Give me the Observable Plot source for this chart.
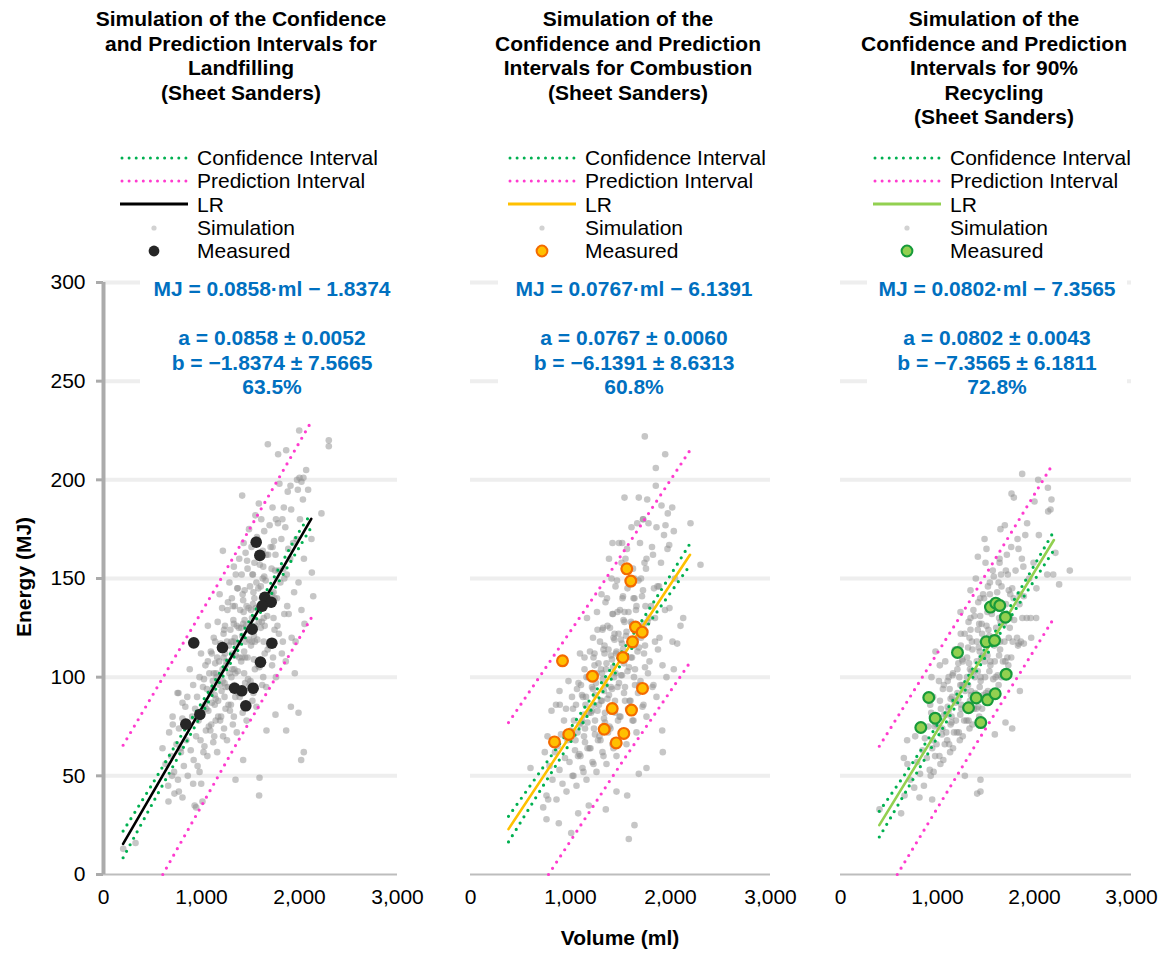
<!DOCTYPE html>
<html><head><meta charset="utf-8">
<script src="https://cdn.jsdelivr.net/npm/d3@7"></script>
<script src="https://cdn.jsdelivr.net/npm/@observablehq/plot@0.6"></script>
<style>
body{margin:0;background:#fff;font-family:"Liberation Sans",Arial,sans-serif;}
#root{position:relative;width:1166px;height:953px;overflow:hidden;background:#fff;}
#root > div, #root > svg, #root > figure{position:absolute;}
.title{font-weight:bold;font-size:21px;line-height:24.6px;text-align:center;color:#000;}
.legend{font-size:21px;color:#000;}
.legend .row{display:flex;align-items:center;height:23.3px;line-height:23.3px;white-space:nowrap;}
.legend .row svg{display:block;margin-right:9px;}
.eq{font-weight:bold;font-size:21px;line-height:24.5px;color:#0070c0;text-align:center;background:#fff;white-space:nowrap;}
.axt{font-weight:bold;font-size:21px;line-height:24px;color:#000;text-align:center;white-space:nowrap;}
</style></head><body><div id="root"></div>
<script>
// ---------------- data ----------------
const xTicks = [0, 1000, 2000, 3000];
const yTicks = [0, 50, 100, 150, 200, 250, 300];
const gridTicks = [50, 100, 150, 200, 250, 300];

const titles = [
  ["Simulation of the Confidence", "and Prediction Intervals for", "Landfilling", "(Sheet Sanders)"],
  ["Simulation of the", "Confidence and Prediction", "Intervals for Combustion", "(Sheet Sanders)"],
  ["Simulation of the", "Confidence and Prediction", "Intervals for 90%", "Recycling", "(Sheet Sanders)"]
];
const legendLabels = ["Confidence Interval", "Prediction Interval", "LR", "Simulation", "Measured"];
const equations = [
  ["MJ = 0.0858·ml − 1.8374", "", "a = 0.0858 ± 0.0052", "b = −1.8374 ± 7.5665", "63.5%"],
  ["MJ = 0.0767·ml − 6.1391", "", "a = 0.0767 ± 0.0060", "b = −6.1391 ± 8.6313", "60.8%"],
  ["MJ = 0.0802·ml − 7.3565", "", "a = 0.0802 ± 0.0043", "b = −7.3565 ± 6.1811", "72.8%"]
];
const xTitle = "Volume (ml)";
const yTitle = "Energy (MJ)";

// regression lines (ml, MJ)
const lr1X = [200, 2120], lr1Y = [15.5, 180.2];
const lr2X = [380, 2195], lr2Y = [23, 162];
const lr3X = [400, 2200], lr3Y = [25, 169.5];

// confidence intervals
const ci1X = [200, 500, 800, 1100, 1400, 1700, 2000, 2120];
const ci1Up = [22, 46, 71, 95, 121, 147, 174, 183];
const ci1Lo = [8.5, 36, 63, 90, 116, 141, 166, 176];
const ci2X = [380, 700, 1000, 1300, 1600, 1900, 2195];
const ci2Up = [29.5, 52.4, 74.2, 96.5, 119.6, 143.6, 167.7];
const ci2Lo = [16.5, 42.8, 67, 90.7, 113.6, 135.6, 156.7];
const ci3X = [400, 700, 1000, 1300, 1600, 1900, 2200];
const ci3Up = [32, 53.4, 76, 99.2, 123.4, 148.4, 174];
const ci3Lo = [19, 44.2, 69.6, 94.6, 118.6, 141.6, 164.4];

// prediction intervals
const pi1UpX = [200, 1160, 2120], pi1Up = [65.5, 146.5, 229.5];
const pi1LoX = [605, 1360, 2120], pi1Lo = [0, 66.5, 130];
const pi2UpX = [380, 1290, 2195], pi2Up = [77, 145, 215];
const pi2LoX = [780, 1490, 2195], pi2Lo = [0, 55, 107.5];
const pi3UpX = [400, 1300, 2195], pi3Up = [65, 136, 208.5];
const pi3LoX = [585, 1390, 2195], pi3Lo = [0, 65.5, 129.5];

// measured points [ml, MJ]
const measured1 = [[1558,168.4],[1595,161.7],[1646,140.5],[1711,138.0],[1619,136.0],[1517,124.3],[921,117.4],[1214,115.0],[1718,117.2],[1602,107.6],[1337,94.4],[1411,93.1],[1527,94.4],[1452,85.5],[983,81.1],[840,76.2]];
const measured2 = [[1563,154.9],[1603,148.7],[1650,125.4],[1717,122.8],[1620,117.9],[1523,110.0],[920,108.3],[1220,100.5],[1720,94.3],[1417,84.1],[1610,83.3],[1337,73.6],[1533,71.5],[1457,66.7],[983,71.0],[840,67.2]];
const measured3 = [[1546,135.5],[1601,137.5],[1642,136.3],[1701,130.4],[1502,117.9],[1588,118.6],[1206,112.5],[1708,101.5],[910,89.7],[1399,89.5],[1515,88.5],[1595,91.6],[1320,84.5],[976,79.2],[828,74.5],[1446,77.0]];

// simulation clouds [ml, MJ]
const sim1 = [
[2299,220],[2299,217],[1997,225],[1864,215],[1677,218],[1782,213],[2068,205],[2000,201],[2020,199],[2040,201],[1415,192],[2088,195],[1983,195],[1908,197],[2224,183],[1218,164],[2122,170],[2126,153],[2140,141],[2051,127],[1952,102],[1912,85],[1990,82],[1864,73],[2044,62],[2017,58],[1755,81],[1663,73],[1592,49],[1588,40],[1347,48],[1425,58],[1010,37],[930,35],[945,34],[806,39],[724,41],[663,37],[769,42],[602,64],[707,76],[765,92],[806,87],[997,46],[915,46],[980,52],[201,13],[327,16],[786,64],[633,56],[700,50],
[660,45],[720,52],[690,60],[745,66],[670,72],[705,80],
[760,48],[820,55],[790,62],[845,68],[770,74],[805,79],[835,85],[755,92],
[860,50],[920,58],[890,63],[945,70],[870,75],[905,80],[935,84],[855,90],[915,96],[880,104],
[960,55],[1020,62],[990,68],[1045,73],[970,78],[1005,82],[1035,86],[955,90],[1015,95],[980,100],[1040,106],[995,112],
[1060,60],[1120,67],[1090,73],[1145,78],[1070,83],[1105,87],[1135,91],[1055,94],[1115,98],[1080,102],[1140,107],[1095,113],[1125,120],[1065,126],
[1160,62],[1220,70],[1190,78],[1245,84],[1170,88],[1205,93],[1235,97],[1155,100],[1215,104],[1180,108],[1240,112],[1195,117],[1225,122],[1165,128],[1210,135],[1185,142],
[1260,68],[1320,76],[1290,83],[1345,90],[1270,95],[1305,100],[1335,104],[1255,108],[1315,112],[1280,116],[1340,120],[1295,124],[1325,129],[1265,134],[1310,140],[1285,148],[1330,156],
[1360,72],[1420,82],[1390,90],[1445,97],[1370,103],[1405,108],[1435,113],[1355,117],[1415,121],[1380,125],[1440,129],[1395,134],[1425,139],[1365,145],[1410,152],[1385,160],[1430,168],
[1460,78],[1520,88],[1490,96],[1545,104],[1470,110],[1505,116],[1535,121],[1455,126],[1515,130],[1480,135],[1540,140],[1495,146],[1525,152],[1465,159],[1510,166],[1485,175],
[1560,85],[1620,96],[1590,105],[1645,112],[1570,119],[1605,125],[1635,130],[1555,135],[1615,140],[1580,145],[1640,151],[1595,157],[1625,164],[1565,171],[1610,180],[1585,188],
[1660,95],[1720,106],[1690,116],[1745,124],[1670,131],[1705,137],[1735,143],[1655,149],[1715,155],[1680,162],[1740,169],[1695,177],[1725,186],
[1760,100],[1820,112],[1790,122],[1845,132],[1770,140],[1805,148],[1835,155],[1755,162],[1815,170],[1780,178],[1840,186],[1795,198],
[1860,108],[1920,120],[1890,132],[1945,143],[1870,152],[1905,160],[1935,168],[1855,176],[1915,185],[1880,194],
[1960,118],[2020,134],[1990,148],[2045,160],[1970,170],[2005,180],[2035,190],[1975,200],
[1030,65],[1075,75],[1050,84],[1090,92],[1025,99],[1065,108],
[1130,70],[1170,80],[1145,89],[1185,96],[1125,102],[1160,110],[1140,118],
[1230,74],[1275,86],[1245,95],[1285,102],[1225,110],[1260,118],[1240,126],[1270,138],
[1330,80],[1375,92],[1345,102],[1385,110],[1325,118],[1360,126],[1340,136],[1370,145],[1350,152],
[1430,86],[1475,99],[1445,110],[1485,119],[1425,127],[1460,136],[1440,144],[1470,155],[1450,163],
[1530,92],[1575,106],[1545,118],[1585,128],[1525,137],[1560,148],[1540,158],[1570,170],[1550,182],
[1630,100],[1675,114],[1645,126],[1685,138],[1625,150],[1660,162],[1640,174],
[1730,110],[1775,126],[1745,140],[1785,154],[1725,166],[1760,180],
[1830,118],[1875,136],[1845,150],[1885,165],[1825,180],
[1100,76],[1135,86],[1115,94],[1150,102],[1105,112],
[1200,80],[1235,90],[1215,98],[1250,106],[1205,114],[1230,124],
[1300,86],[1335,96],[1315,104],[1350,111],[1305,118],[1330,127],[1320,136],
[1400,92],[1435,102],[1415,110],[1450,118],[1405,125],[1430,133],[1420,142],
[1500,98],[1535,109],[1515,118],[1550,126],[1505,134],[1530,143],[1520,152],
[1600,108],[1635,118],[1615,128],[1650,137],[1605,146],[1630,156],
[1700,118],[1735,130],[1715,142],[1750,154],[1705,166]
];
const sim2 = [
[1743,222],[1947,213],[1853,206],[1853,197],[1540,191],[1683,191],[1767,190],[2200,178],[2300,157],[2127,130],[2100,126],[2067,117],[2033,104],[1917,73],[1923,62],[1760,54],[1683,51],[1567,40],[1640,25],[1583,18],[1460,42],[1353,33],[1183,35],[1077,31],[1007,21],[883,26],[760,28],[727,34],[777,38],[600,54],[743,62],[810,83],[890,93],[893,86],[1420,168],[1973,183],[2033,174],[1950,177],[1860,176],[1987,167],[1517,168],[1667,178],[1727,180],[1910,187],[2017,186],
[760,40],[820,48],[790,55],[845,62],[770,70],
[860,38],[920,46],[890,53],[945,59],[870,65],[905,71],[935,78],[855,86],
[960,42],[1020,50],[990,57],[1045,63],[970,68],[1005,73],[1035,78],[955,84],[1015,90],[980,98],
[1060,45],[1120,54],[1090,61],[1145,67],[1070,72],[1105,77],[1135,81],[1055,86],[1115,91],[1080,97],[1140,104],[1095,112],
[1160,48],[1220,57],[1190,64],[1245,71],[1170,77],[1205,82],[1235,86],[1155,90],[1215,95],[1180,100],[1240,106],[1195,113],[1225,120],[1165,130],
[1260,52],[1320,62],[1290,70],[1345,77],[1270,83],[1305,88],[1335,93],[1255,97],[1315,102],[1280,107],[1340,112],[1295,118],[1325,125],[1265,133],[1310,142],
[1360,56],[1420,66],[1390,75],[1445,82],[1370,89],[1405,95],[1435,100],[1355,104],[1415,109],[1380,114],[1440,119],[1395,125],[1425,132],[1365,140],[1410,150],[1385,160],
[1460,60],[1520,71],[1490,80],[1545,88],[1470,95],[1505,101],[1535,107],[1455,112],[1515,117],[1480,122],[1540,128],[1495,134],[1525,141],[1465,149],[1510,158],[1485,168],
[1560,66],[1620,78],[1590,88],[1645,96],[1570,103],[1605,110],[1635,116],[1555,121],[1615,127],[1580,133],[1640,140],[1595,147],[1625,155],[1565,165],[1610,176],
[1660,72],[1720,85],[1690,96],[1745,105],[1670,113],[1705,120],[1735,127],[1655,134],[1715,141],[1680,149],[1740,158],[1695,168],[1725,180],
[1760,80],[1820,95],[1790,108],[1845,118],[1770,128],[1805,136],[1835,145],[1755,155],[1815,166],[1780,178],
[1860,90],[1920,106],[1890,120],[1945,134],[1870,146],[1905,158],[1935,172],
[1960,100],[2020,118],[1990,135],[2045,150],[1970,165],
[1030,50],[1075,60],[1050,68],[1090,76],[1025,84],[1065,94],
[1130,52],[1170,64],[1145,74],[1185,82],[1125,90],[1160,100],[1140,110],
[1230,56],[1275,68],[1245,78],[1285,86],[1225,94],[1260,102],[1240,112],[1270,124],
[1330,60],[1375,72],[1345,82],[1385,91],[1325,99],[1360,107],[1340,116],[1370,126],[1350,138],
[1430,64],[1475,78],[1445,88],[1485,97],[1425,105],[1460,113],[1440,122],[1470,133],[1450,146],
[1530,70],[1575,84],[1545,95],[1585,105],[1525,114],[1560,123],[1540,133],[1570,145],[1550,160],
[1630,78],[1675,92],[1645,104],[1685,115],[1625,125],[1660,136],[1640,150],
[1730,86],[1775,102],[1745,116],[1785,130],[1725,144],[1760,160],
[1830,96],[1875,114],[1845,130],[1885,146],[1825,162],
[1100,60],[1135,70],[1115,78],[1150,86],[1105,96],
[1200,64],[1235,74],[1215,83],[1250,91],[1205,99],[1230,110],
[1300,68],[1335,79],[1315,88],[1350,96],[1305,104],[1330,114],[1320,124],
[1400,74],[1435,85],[1415,94],[1450,102],[1405,111],[1430,120],[1420,132],
[1500,80],[1535,92],[1515,101],[1550,110],[1505,119],[1530,129],[1520,140],
[1600,88],[1635,100],[1615,110],[1650,119],[1605,128],[1630,140],
[1700,98],[1735,112],[1715,124],[1750,136],[1705,150]
];
const sim3 = [
[1873,203],[2038,200],[2138,196],[1763,193],[1787,191],[2000,189],[2175,190],[2165,185],[2141,184],[1924,178],[1649,175],[1694,177],[1485,170],[1505,165],[1416,161],[2216,163],[2364,154],[2254,147],[2131,152],[2193,152],[1340,144],[1237,133],[2017,130],[1838,117],[1890,117],[1966,120],[1849,93],[1770,74],[1701,77],[1591,71],[1443,48],[1409,41],[1443,42],[1282,50],[945,38],[814,39],[625,31],[402,33],[653,59],[687,68],[938,100],[1024,106],[979,113],
[660,40],[720,48],[690,56],
[760,44],[820,51],[790,57],[845,63],[770,70],
[860,45],[920,53],[890,59],[945,64],[870,69],[905,75],[935,82],
[960,52],[1020,60],[990,66],[1045,71],[970,75],[1005,79],[1035,84],[955,90],[1015,98],
[1060,58],[1120,66],[1090,72],[1145,77],[1070,81],[1105,85],[1135,89],[1055,94],[1115,100],[1080,108],
[1160,64],[1220,72],[1190,78],[1245,84],[1170,88],[1205,92],[1235,96],[1155,101],[1215,107],[1180,114],[1240,122],
[1260,70],[1320,78],[1290,85],[1345,91],[1270,96],[1305,100],[1335,104],[1255,109],[1315,115],[1280,122],[1340,130],
[1360,76],[1420,85],[1390,92],[1445,98],[1370,103],[1405,108],[1435,113],[1355,118],[1415,124],[1380,131],[1440,140],[1395,150],
[1460,84],[1520,93],[1490,100],[1545,106],[1470,111],[1505,116],[1535,121],[1455,127],[1515,133],[1480,140],[1540,148],[1495,158],
[1560,92],[1620,101],[1590,108],[1645,114],[1570,120],[1605,125],[1635,130],[1555,136],[1615,143],[1580,151],[1640,160],
[1660,100],[1720,110],[1690,118],[1745,125],[1670,131],[1705,137],[1735,144],[1655,152],[1715,162],
[1760,110],[1820,120],[1790,129],[1845,137],[1770,145],[1805,154],[1835,165],
[1860,118],[1920,130],[1890,141],[1945,150],[1870,160],[1905,172],
[1960,130],[2020,145],[1990,158],[2045,172],
[930,50],[975,60],[950,68],[990,76],[925,86],
[1030,56],[1075,66],[1050,74],[1090,81],[1025,88],[1065,96],
[1130,62],[1170,72],[1145,80],[1185,87],[1125,94],[1160,102],
[1230,68],[1275,78],[1245,86],[1285,93],[1225,100],[1260,108],[1240,116],
[1330,74],[1375,84],[1345,93],[1385,100],[1325,107],[1360,114],[1340,124],[1370,134],
[1430,80],[1475,91],[1445,100],[1485,108],[1425,115],[1460,122],[1440,131],[1470,142],
[1530,88],[1575,99],[1545,108],[1585,116],[1525,124],[1560,132],[1540,142],[1570,154],
[1630,96],[1675,108],[1645,118],[1685,127],[1625,136],[1660,146],[1640,158],
[1730,106],[1775,118],[1745,130],[1785,140],[1725,152],[1760,166],
[1830,116],[1875,130],[1845,142],[1885,156],[1825,170],
[1100,68],[1135,76],[1115,83],[1150,90],[1105,98],
[1200,72],[1235,81],[1215,89],[1250,96],[1205,104],[1230,112],
[1300,78],[1335,88],[1315,96],[1350,103],[1305,110],[1330,120],[1320,128],
[1400,84],[1435,95],[1415,103],[1450,110],[1405,118],[1430,127],[1420,138],
[1500,92],[1535,103],[1515,111],[1550,118],[1505,126],[1530,135],[1520,146],
[1600,100],[1635,111],[1615,120],[1650,128],[1605,137],[1630,148],
[1700,108],[1735,120],[1715,131],[1750,142],[1705,154]
];

// ---------------- styles / layout ----------------
const lrColors = ["#000000", "#ffc000", "#92d050"];
const measFill = ["#262626", "#ffc000", "#92d050"];
const measStroke = ["#262626", "#f46a00", "#179a3a"];
const ciColor = "#00b050", piColor = "#ff3bcf";
const layout = [
  {svgLeft: 0, width: 430, ml: 103, mr: 33, titleCenter: 241, legendLeft: 120, eqLeft: 140, eqWidth: 264, yAxis: true},
  {svgLeft: 440, width: 360, ml: 30, mr: 30, titleCenter: 628, legendLeft: 508, eqLeft: 498, eqWidth: 272, yAxis: false},
  {svgLeft: 810, width: 356, ml: 30, mr: 35, titleCenter: 994, legendLeft: 873, eqLeft: 867, eqWidth: 260, yAxis: false}
];
const svgTop = 260;

const toPts = (xs, ys) => xs.map((x, k) => ({x, y: ys[k]}));
const panels = [
  {sim: sim1, meas: measured1, lr: toPts(lr1X, lr1Y), ciU: toPts(ci1X, ci1Up), ciL: toPts(ci1X, ci1Lo), piU: toPts(pi1UpX, pi1Up), piL: toPts(pi1LoX, pi1Lo)},
  {sim: sim2, meas: measured2, lr: toPts(lr2X, lr2Y), ciU: toPts(ci2X, ci2Up), ciL: toPts(ci2X, ci2Lo), piU: toPts(pi2UpX, pi2Up), piL: toPts(pi2LoX, pi2Lo)},
  {sim: sim3, meas: measured3, lr: toPts(lr3X, lr3Y), ciU: toPts(ci3X, ci3Up), ciL: toPts(ci3X, ci3Lo), piU: toPts(pi3UpX, pi3Up), piL: toPts(pi3LoX, pi3Lo)}
];

const root = document.getElementById("root");
function addDiv(cls, style, html) {
  const d = document.createElement("div");
  d.className = cls;
  Object.assign(d.style, style);
  d.innerHTML = html;
  root.appendChild(d);
  return d;
}

const dotted = {strokeWidth: 3.2, strokeDasharray: "0 7.4", strokeLinecap: "round"};

panels.forEach((p, i) => {
  const L = layout[i];
  const marks = [
    Plot.ruleY(gridTicks, {stroke: "#eeeeee", strokeWidth: 4}),
    Plot.ruleY([0], {stroke: "#bdbdbd", strokeWidth: 2})
  ];
  if (L.yAxis) {
    marks.push(Plot.ruleX([0], {stroke: "#ababab", strokeWidth: 4}));
    marks.push(Plot.axisY(yTicks, {tickSize: 7, tickPadding: 11, stroke: "#ababab", strokeWidth: 3, fill: "#000", fontSize: 21, label: null, tickFormat: d => String(d)}));
  }
  marks.push(
    Plot.axisX(xTicks, {tickSize: 0, tickPadding: 15, fill: "#000", fontSize: 21, label: null, tickFormat: d3.format(",")}),
    Plot.dot(p.sim, {x: d => d[0], y: d => d[1], r: 3.3, fill: "#8e8e8e", fillOpacity: 0.5, stroke: "none"}),
    Plot.line(p.piU, {x: "x", y: "y", stroke: piColor, ...dotted}),
    Plot.line(p.piL, {x: "x", y: "y", stroke: piColor, ...dotted}),
    Plot.line(p.ciU, {x: "x", y: "y", stroke: ciColor, curve: "catmull-rom", ...dotted}),
    Plot.line(p.ciL, {x: "x", y: "y", stroke: ciColor, curve: "catmull-rom", ...dotted}),
    Plot.line(p.lr, {x: "x", y: "y", stroke: lrColors[i], strokeWidth: 2.6}),
    Plot.dot(p.meas, {x: d => d[0], y: d => d[1], r: i === 0 ? 5.8 : 5.4, fill: measFill[i], stroke: measStroke[i], strokeWidth: i === 0 ? 0 : 2.2})
  );
  const chart = Plot.plot({
    width: L.width, height: 654,
    marginLeft: L.ml, marginRight: L.mr, marginTop: 22, marginBottom: 40,
    x: {domain: [0, 3000]},
    y: {domain: [0, 300], axis: L.yAxis ? undefined : null},
    style: {fontFamily: "'Liberation Sans', Arial, sans-serif", fontSize: "21px", color: "#000", background: "transparent", overflow: "visible"},
    marks
  });
  chart.style.position = "absolute";
  chart.style.left = L.svgLeft + "px";
  chart.style.top = svgTop + "px";
  root.appendChild(chart);

  // title
  addDiv("title", {left: (L.titleCenter - 190) + "px", width: "380px", top: "7px"}, titles[i].join("<br>"));

  // legend
  const sym = [
    `<svg width="68" height="12"><line x1="2" y1="6" x2="66" y2="6" stroke="${ciColor}" stroke-width="3" stroke-dasharray="0 7.1" stroke-linecap="round"/></svg>`,
    `<svg width="68" height="12"><line x1="2" y1="6" x2="66" y2="6" stroke="${piColor}" stroke-width="3" stroke-dasharray="0 7.1" stroke-linecap="round"/></svg>`,
    `<svg width="68" height="12"><line x1="0" y1="6" x2="68" y2="6" stroke="${lrColors[i]}" stroke-width="3"/></svg>`,
    `<svg width="68" height="12"><circle cx="34" cy="6" r="2.6" fill="#d2d2d2"/></svg>`,
    `<svg width="68" height="14"><circle cx="34" cy="7" r="5.4" fill="${measFill[i]}" stroke="${measStroke[i]}" stroke-width="${i === 0 ? 0 : 2}"/></svg>`
  ];
  addDiv("legend", {left: L.legendLeft + "px", top: "146px"},
    legendLabels.map((t, k) => `<div class="row">${sym[k]}<span>${t}</span></div>`).join(""));

  // equation box
  addDiv("eq", {left: L.eqLeft + "px", width: L.eqWidth + "px", top: "274px", height: "124px", paddingTop: "3px", boxSizing: "border-box"},
    equations[i].map(t => t === "" ? "&nbsp;" : t).join("<br>"));
});

// axis titles
addDiv("axt", {left: "520px", width: "200px", top: "926px"}, xTitle);
addDiv("axt", {left: "-76px", width: "200px", top: "565px", transform: "rotate(-90deg)"}, yTitle);
</script>
</body></html>
